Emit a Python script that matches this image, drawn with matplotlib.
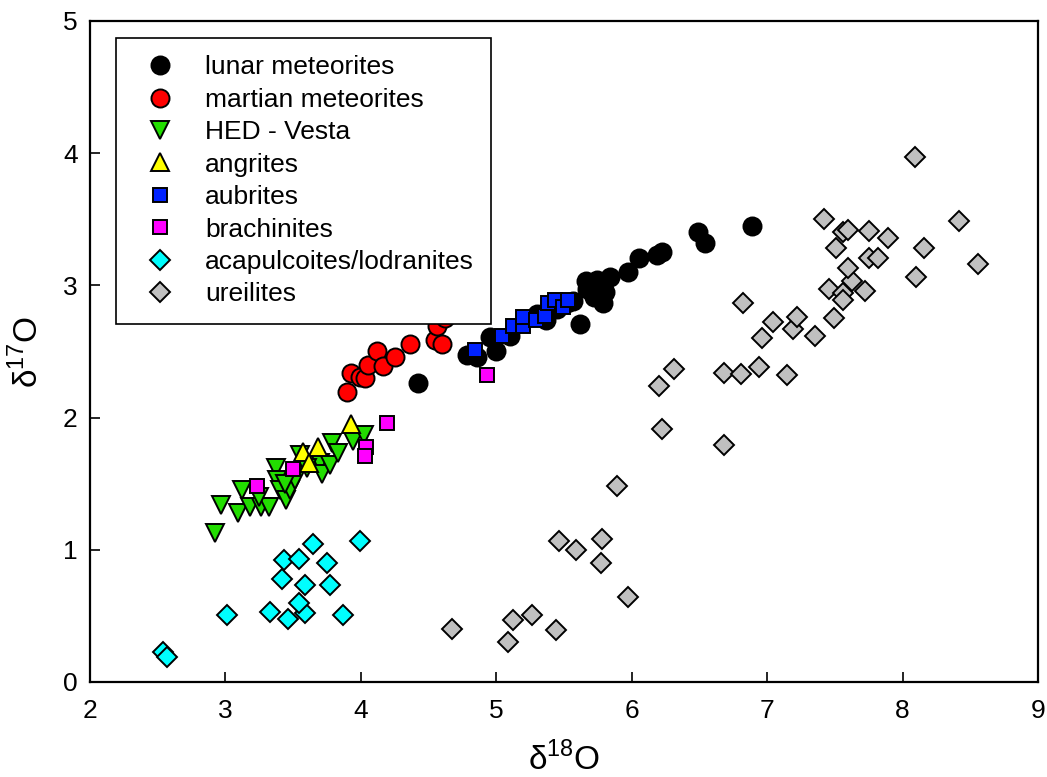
import matplotlib
matplotlib.use("Agg")
import matplotlib.pyplot as plt

# ---------------- data ----------------
lunar_x = [4.42, 4.78, 4.86, 4.95, 5.00, 5.10, 5.30, 5.37, 5.45, 5.52, 5.57, 5.62, 5.66, 5.67,
           5.72, 5.74, 5.79, 5.80, 5.84, 5.97, 6.05, 6.19, 6.22, 6.49, 6.54, 6.89]
lunar_y = [2.26, 2.47, 2.46, 2.61, 2.50, 2.62, 2.78, 2.74, 2.82, 2.87, 2.88, 2.71, 3.03, 2.97,
           2.91, 3.04, 2.87, 2.95, 3.06, 3.10, 3.21, 3.23, 3.25, 3.40, 3.32, 3.45]

martian_x = [3.90, 3.93, 3.99, 4.03, 4.05, 4.12, 4.16, 4.25, 4.36, 4.55, 4.60, 4.56, 4.62]
martian_y = [2.19, 2.34, 2.31, 2.30, 2.40, 2.50, 2.39, 2.46, 2.56, 2.59, 2.56, 2.69, 2.75]

hed_x = [2.92, 2.97, 3.09, 3.12, 3.18, 3.26, 3.32, 3.37, 3.38, 3.40, 3.45, 3.48, 3.51, 3.55,
         3.70, 3.71, 3.77, 3.79, 3.83, 3.94, 4.02, 3.60, 3.25, 3.44]
hed_y = [1.13, 1.34, 1.28, 1.45, 1.32, 1.32, 1.32, 1.62, 1.53, 1.45, 1.38, 1.45, 1.53, 1.72,
         1.66, 1.57, 1.64, 1.81, 1.73, 1.82, 1.87, 1.62, 1.40, 1.50]

angrite_x = [3.93, 3.57, 3.68, 3.62]
angrite_y = [1.95, 1.74, 1.78, 1.66]

aubrite_x = [4.84, 5.04, 5.12, 5.20, 5.20, 5.29, 5.36, 5.38, 5.43, 5.49, 5.53]
aubrite_y = [2.51, 2.62, 2.69, 2.69, 2.76, 2.74, 2.77, 2.87, 2.89, 2.84, 2.89]

brach_x = [4.19, 4.04, 4.03, 3.50, 3.23, 4.93]
brach_y = [1.96, 1.78, 1.71, 1.61, 1.48, 2.32]

acap_x = [2.54, 2.57, 3.01, 3.33, 3.46, 3.59, 3.54, 3.59, 3.42, 3.43, 3.54, 3.65, 3.75, 3.77,
          3.87, 3.99]
acap_y = [0.23, 0.19, 0.51, 0.53, 0.48, 0.52, 0.60, 0.73, 0.78, 0.92, 0.93, 1.04, 0.90, 0.73,
          0.51, 1.07]

ureil_x = [4.67, 5.12, 5.09, 5.26, 5.44, 5.46, 5.59, 5.78, 5.77, 5.97, 5.89, 6.22, 6.68,
           6.20, 6.31, 6.68, 6.81, 6.94, 7.15, 6.82, 6.96, 7.04, 7.19, 7.22, 7.35, 7.49, 7.46,
           7.56, 7.56, 7.63, 7.72, 7.60, 7.42, 7.51, 7.56, 7.60, 7.75, 7.89, 7.75, 7.82, 8.09,
           8.42, 8.16, 8.10, 8.56]
ureil_y = [0.40, 0.47, 0.30, 0.51, 0.39, 1.07, 1.00, 1.08, 0.90, 0.64, 1.48, 1.91, 1.79,
           2.24, 2.37, 2.34, 2.33, 2.38, 2.32, 2.87, 2.60, 2.72, 2.67, 2.76, 2.62, 2.75, 2.97,
           2.94, 2.89, 3.03, 2.96, 3.13, 3.50, 3.28, 3.40, 3.42, 3.41, 3.36, 3.21, 3.21, 3.97,
           3.49, 3.28, 3.06, 3.16]

labels = ["lunar meteorites", "martian meteorites", "HED - Vesta", "angrites", "aubrites",
          "brachinites", "acapulcoites/lodranites", "ureilites"]
x_ticks = [2, 3, 4, 5, 6, 7, 8, 9]
y_ticks = [0, 1, 2, 3, 4, 5]

# ---------------- figure ----------------
plt.rcParams["font.family"] = ["Liberation Sans", "DejaVu Sans"]
plt.rcParams["mathtext.fontset"] = "custom"
plt.rcParams["mathtext.rm"] = "Liberation Sans"

fig = plt.figure(figsize=(10.47, 7.77), dpi=100)
ax = fig.add_axes([0.086, 0.1223, 0.9054, 0.8507])

series = [
    (lunar_x, lunar_y, "o", "black", 13.0),
    (martian_x, martian_y, "o", "#ff0000", 13.0),
    (hed_x, hed_y, "v", "#22dd00", 12.5),
    (angrite_x, angrite_y, "^", "#ffff00", 12.5),
    (aubrite_x, aubrite_y, "s", "#0022ff", 10.0),
    (brach_x, brach_y, "s", "#ff00ff", 10.0),
    (acap_x, acap_y, "D", "#00ffff", 9.8),
    (ureil_x, ureil_y, "D", "#c0c0c0", 9.8),
]
for (xs, ys, m, c, ms), lab in zip(series, labels):
    ax.plot(xs, ys, linestyle="none", marker=m, markersize=ms, markerfacecolor=c,
            markeredgecolor="black", markeredgewidth=1.4, label=lab)

ax.set_xlim(2, 9)
ax.set_ylim(0, 5)
ax.set_xticks(x_ticks)
ax.set_yticks(y_ticks)
ax.tick_params(direction="in", length=7, width=1.2, top=False, right=False, labelsize=19)
ax.tick_params(axis="x", pad=12)
ax.tick_params(axis="y", pad=9)
for s in ax.spines.values():
    s.set_linewidth(1.6)

ax.set_xlabel("δ$^{18}$O", fontsize=24, labelpad=14)
ax.set_ylabel("δ$^{17}$O", fontsize=24, labelpad=13)

leg = ax.legend(loc="upper left", bbox_to_anchor=(0.0274, 0.974), fontsize=19,
                frameon=True, fancybox=False, edgecolor="black", framealpha=1,
                borderpad=0.65, labelspacing=0.32, handletextpad=0.69, handlelength=2.03,
                borderaxespad=0, numpoints=1)
leg.get_frame().set_linewidth(1.2)

fig.savefig("out.png", dpi=100)
